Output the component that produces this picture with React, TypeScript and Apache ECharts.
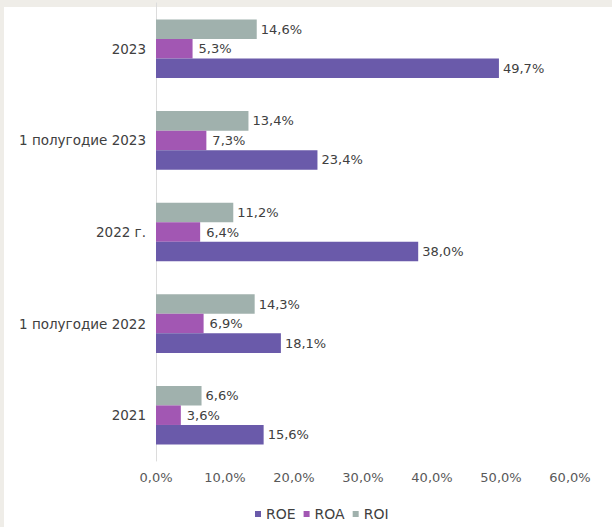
import React, { useEffect, useRef } from "react";
import * as echarts from "echarts";

const categories = ["2023", "1 полугодие 2023", "2022 г.", "1 полугодие 2022", "2021"];
const roe = [49.7, 23.4, 38.0, 18.1, 15.6];
const roa = [5.3, 7.3, 6.4, 6.9, 3.6];
const roi = [14.6, 13.4, 11.2, 14.3, 6.6];
const valueTicks = { min: 0, max: 60, interval: 10 };

const fmt = (v: number) => v.toFixed(1).replace(".", ",") + "%";

export default function App() {
  const ref = useRef<HTMLDivElement>(null);
  useEffect(() => {
    if (!ref.current) return;
    const chart = echarts.init(ref.current, null, { renderer: "svg" });
    const font = "'DejaVu Sans', sans-serif";
    const label = (bg?: string) => ({
      show: true,
      position: "right" as const,
      distance: 4,
      color: "#404040",
      fontSize: 13,
      fontFamily: font,
      formatter: (p: any) => fmt(p.value),
      ...(bg ? { backgroundColor: bg, padding: [1, 2, 1, 2] } : {}),
    });
    chart.setOption({
      animation: false,
      backgroundColor: "transparent",
      graphic: [
        {
          type: "rect",
          z: -10,
          silent: true,
          shape: { x: 4, y: 7, width: 608, height: 520 },
          style: { fill: "#ffffff" },
        },
      ],
      grid: { left: 156, right: 42, top: 3, bottom: 66, containLabel: false },
      legend: {
        data: ["ROE", "ROA", "ROI"],
        top: 502,
        left: 250,
        icon: "rect",
        itemWidth: 6,
        itemHeight: 6,
        itemGap: 8,
        textStyle: { color: "#404040", fontSize: 14, fontFamily: font },
      },
      xAxis: {
        type: "value",
        min: valueTicks.min,
        max: valueTicks.max,
        interval: valueTicks.interval,
        splitLine: { show: false },
        axisLine: { show: false },
        axisTick: { show: false },
        axisLabel: {
          color: "#595959",
          fontSize: 13,
          fontFamily: font,
          margin: 10,
          formatter: (v: number) => fmt(v),
        },
      },
      yAxis: {
        type: "category",
        data: categories,
        inverse: true,
        axisLine: { show: true, lineStyle: { color: "#dcdcdc", width: 1 } },
        axisTick: { show: false },
        axisLabel: { color: "#404040", fontSize: 13.5, fontFamily: font, margin: 10 },
      },
      series: [
        {
          name: "ROI",
          type: "bar",
          data: roi,
          barGap: "0%",
          barCategoryGap: "36%",
          itemStyle: { color: "#a0b1ad" },
          label: label(),
        },
        {
          name: "ROA",
          type: "bar",
          data: roa,
          itemStyle: { color: "#a257b3" },
          label: label("#ffffff"),
        },
        {
          name: "ROE",
          type: "bar",
          data: roe,
          itemStyle: { color: "#6a5aaa" },
          label: label(),
        },
      ],
    });
    return () => chart.dispose();
  }, []);
  return (
    <div
      style={{
        position: "absolute",
        left: 0,
        top: 0,
        width: 612,
        height: 527,
        background: "#efede8",
      }}
    >
      <div ref={ref} style={{ width: 612, height: 527 }} />
    </div>
  );
}
